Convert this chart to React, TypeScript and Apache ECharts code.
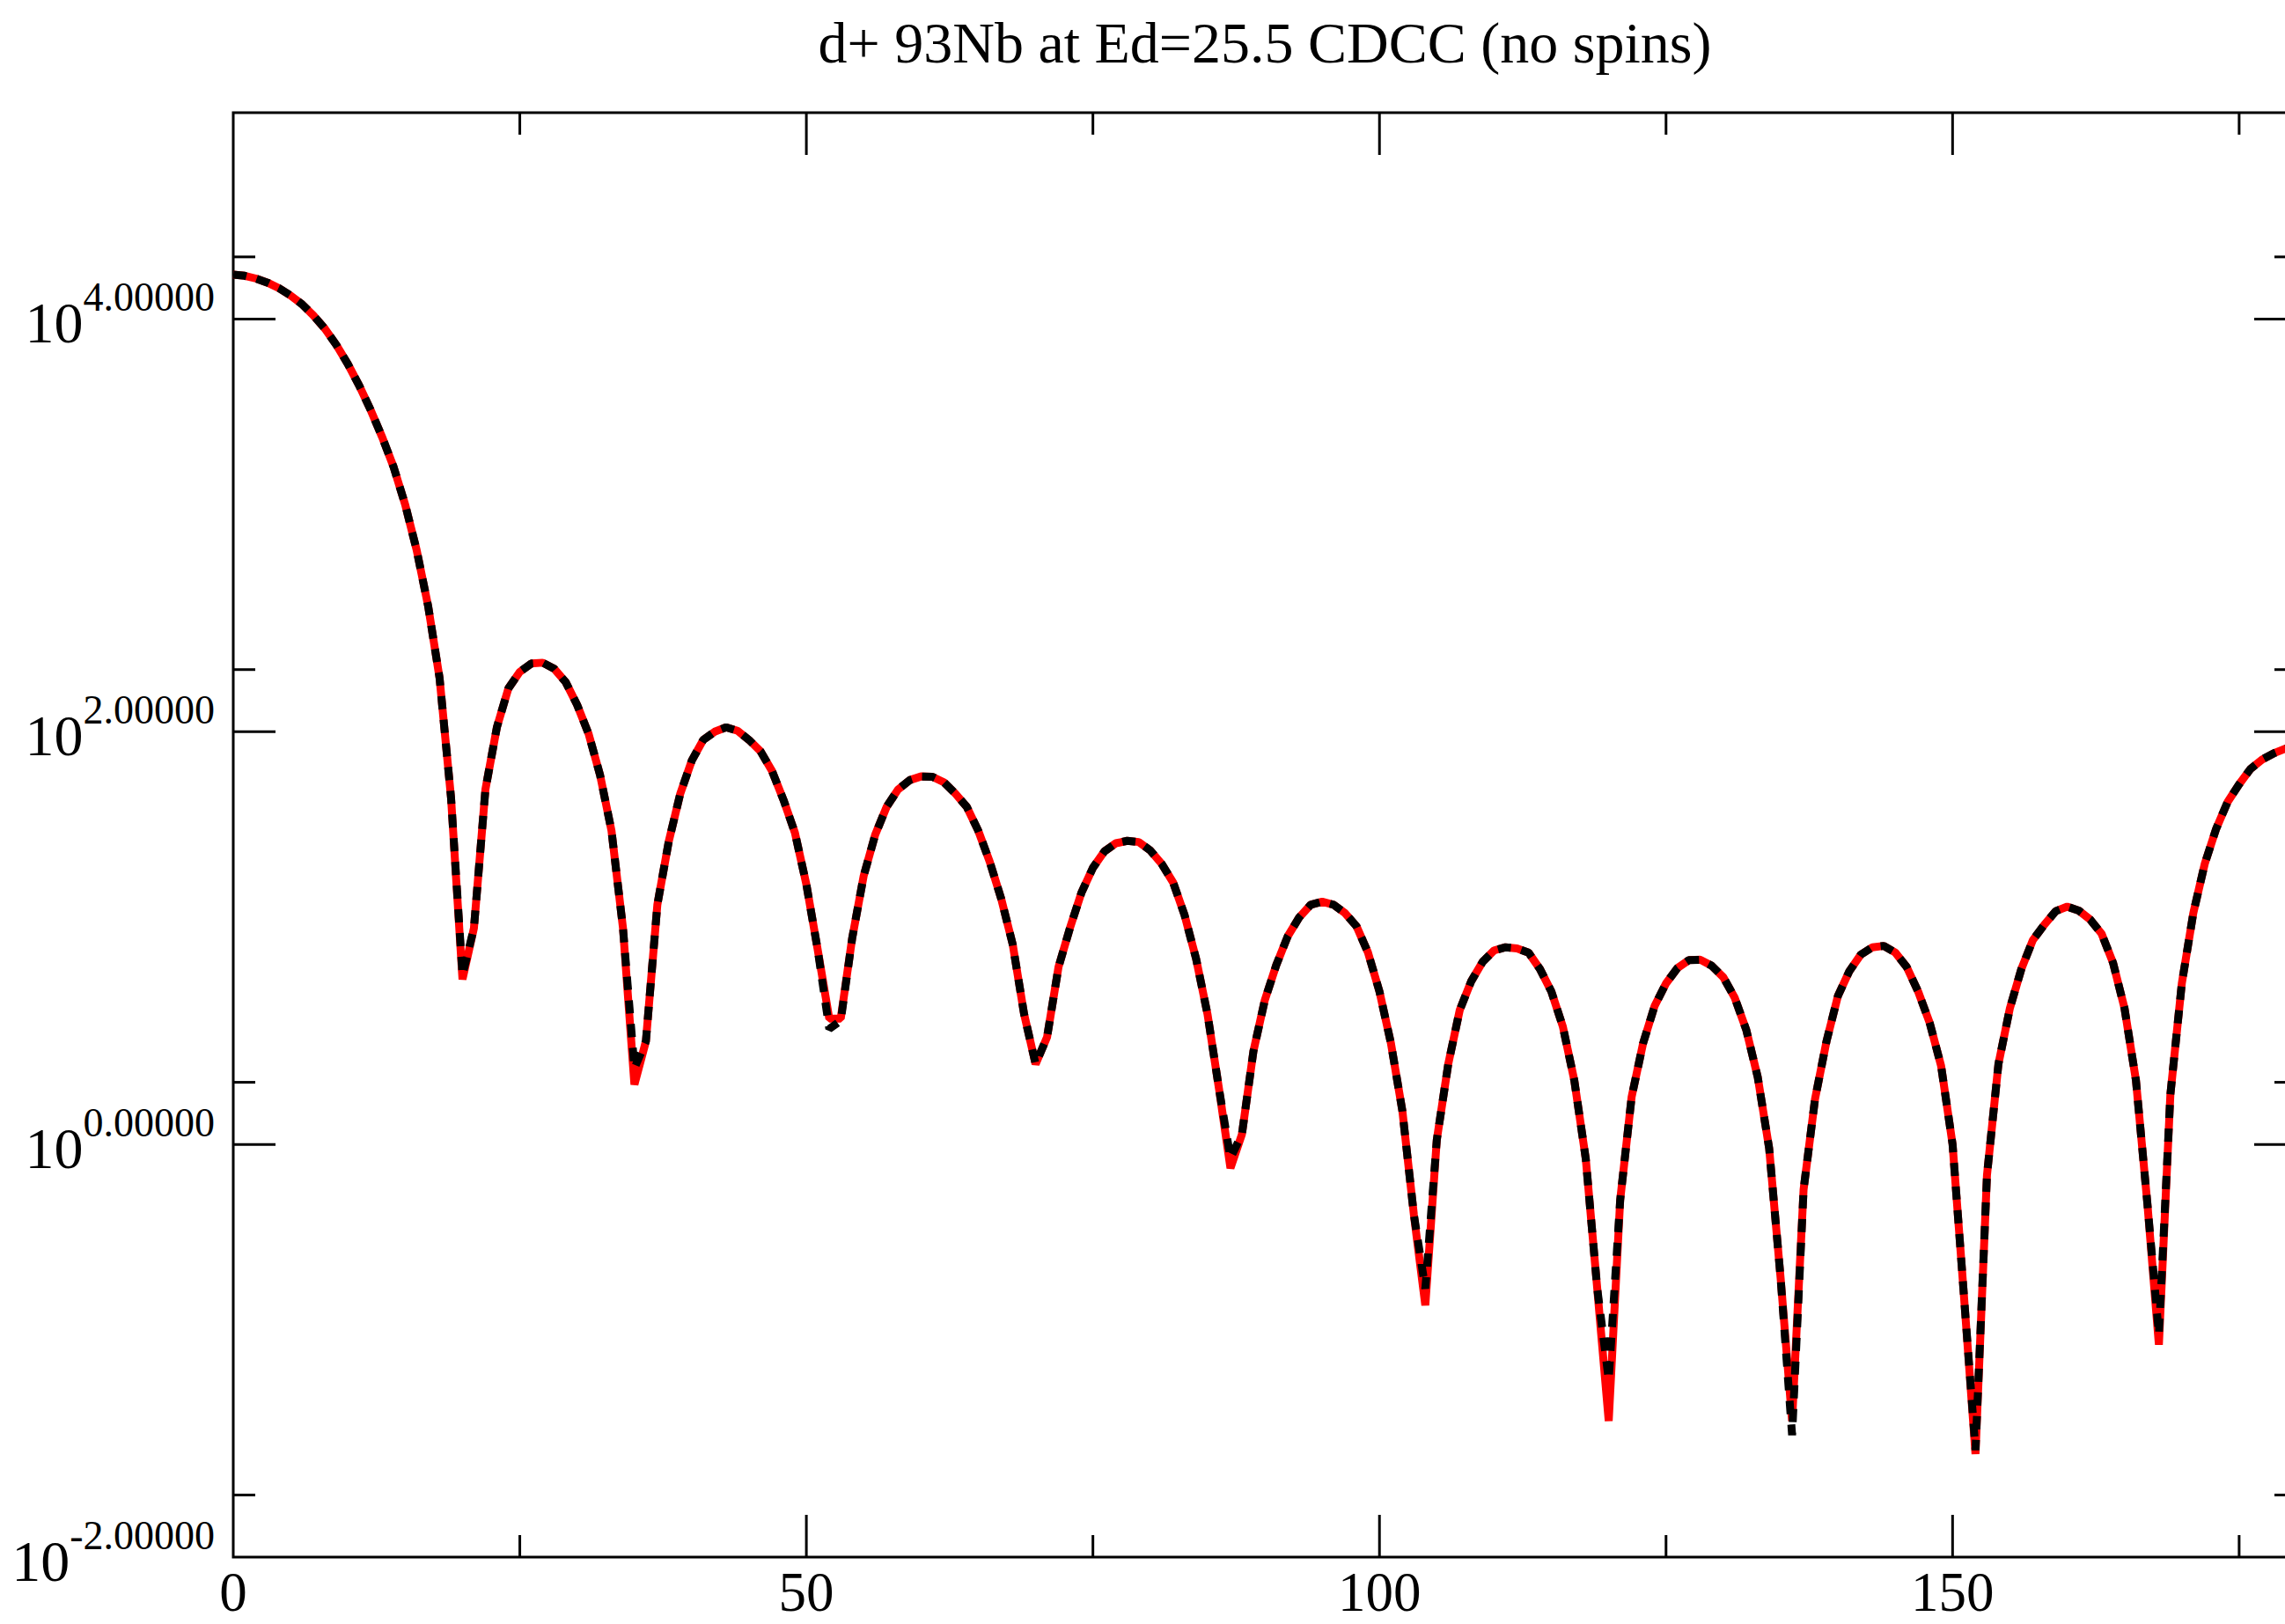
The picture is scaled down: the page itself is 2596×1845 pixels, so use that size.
import React, { useEffect, useRef } from "react";
import * as echarts from "echarts";

const TITLE = "d+ 93Nb at Ed=25.5 CDCC (no spins)";

// scattering angle (degrees), 1 degree steps
const angles: number[] = Array.from({ length: 181 }, (_, i) => i);

// black dashed curve
const crossSectionBlack: number[] = [
  16400, 16200, 15700, 15000, 14100, 13000, 11800, 10400, 8970, 7480,
  6050, 4740, 3610, 2670, 1910, 1260, 759, 407, 182, 47.9,
  6.61, 11.2, 52.5, 105, 162, 195, 214, 216, 202, 174,
  135, 97.7, 61.7, 33.1, 11.2, 2.34, 3.16, 14.5, 29.5, 50.1,
  72.4, 91.2, 100, 105, 101, 91.2, 80.4, 64.6, 46.8, 32.4,
  18.2, 8.71, 3.63, 3.98, 10.0, 20.0, 31.6, 43.2, 52.5, 58.2,
  60.7, 60.5, 56.9, 50.1, 43.2, 33.1, 23.4, 15.5, 9.33, 4.27,
  2.45, 3.31, 7.24, 11.2, 16.6, 21.9, 26.3, 28.8, 29.6, 29.2,
  26.6, 22.9, 18.6, 12.9, 7.94, 4.27, 1.86, 0.859, 1.12, 2.82,
  5.01, 7.41, 10.2, 12.6, 14.5, 15.0, 14.5, 13.2, 11.4, 8.51,
  5.5, 3.09, 1.45, 0.457, 0.2, 1.05, 2.45, 4.47, 6.17, 7.67,
  8.71, 9.02, 8.91, 8.51, 7.08, 5.5, 3.72, 2.04, 0.851, 0.2,
  0.0724, 0.537, 1.7, 3.09, 4.68, 6.03, 7.16, 7.82, 7.85, 7.33,
  6.46, 5.13, 3.59, 2.12, 0.955, 0.224, 0.0390, 0.603, 1.66, 3.16,
  5.25, 6.92, 8.32, 9.02, 9.16, 8.51, 7.24, 5.5, 3.89, 2.4,
  1.0, 0.182, 0.0330, 0.708, 2.45, 4.57, 7.08, 9.77, 11.6, 13.5,
  14.2, 13.6, 12.3, 10.5, 7.59, 4.57, 2.04, 0.513, 0.12, 1.74,
  6.03, 13.2, 22.9, 33.9, 45.7, 55.6, 66.1, 73.3, 78.5, 82.6,
  85.1,
];

// red solid curve
const crossSectionRed: number[] = [
  16400, 16200, 15700, 15000, 14100, 13000, 11800, 10400, 8970, 7480,
  6050, 4740, 3610, 2670, 1910, 1260, 759, 407, 182, 47.9,
  6.31, 11.2, 52.5, 105, 162, 195, 214, 216, 202, 174,
  135, 97.7, 61.7, 33.1, 11.2, 1.95, 3.16, 14.5, 29.5, 50.1,
  72.4, 91.2, 100, 105, 101, 91.2, 80.4, 64.6, 46.8, 32.4,
  18.2, 8.71, 4.07, 4.07, 10.0, 20.0, 31.6, 43.2, 52.5, 58.2,
  60.7, 60.5, 56.9, 50.1, 43.2, 33.1, 23.4, 15.5, 9.33, 4.27,
  2.45, 3.31, 7.24, 11.2, 16.6, 21.9, 26.3, 28.8, 29.6, 29.2,
  26.6, 22.9, 18.6, 12.9, 7.94, 4.27, 1.86, 0.767, 1.12, 2.82,
  5.01, 7.41, 10.2, 12.6, 14.5, 15.0, 14.5, 13.2, 11.4, 8.51,
  5.5, 3.09, 1.45, 0.457, 0.166, 1.05, 2.45, 4.47, 6.17, 7.67,
  8.71, 9.02, 8.91, 8.51, 7.08, 5.5, 3.72, 2.04, 0.851, 0.2,
  0.0457, 0.537, 1.7, 3.09, 4.68, 6.03, 7.16, 7.82, 7.85, 7.33,
  6.46, 5.13, 3.59, 2.12, 0.955, 0.224, 0.0457, 0.603, 1.66, 3.16,
  5.25, 6.92, 8.32, 9.02, 9.16, 8.51, 7.24, 5.5, 3.89, 2.4,
  1.0, 0.182, 0.0316, 0.708, 2.45, 4.57, 7.08, 9.77, 11.6, 13.5,
  14.2, 13.6, 12.3, 10.5, 7.59, 4.57, 2.04, 0.513, 0.107, 1.74,
  6.03, 13.2, 22.9, 33.9, 45.7, 55.6, 66.1, 73.3, 78.5, 82.6,
  85.1,
];

const X_MIN = 0;
const X_MAX = 180;
const X_LABEL_STEP = 50;
const Y_MIN = 0.01;
const Y_MAX = 100000;

const xMajorTicks = [50, 100, 150];
const xMinorTicks = [25, 75, 125, 175];
const yMajorTicks = [1, 100, 10000];
const yMinorTicks = [0.02, 2, 200, 20000];

const FONT = "'Liberation Serif', 'Times New Roman', Times, serif";

export default function App() {
  const ref = useRef<HTMLDivElement>(null);

  useEffect(() => {
    if (!ref.current) return;
    const chart = echarts.init(ref.current, null, { renderer: "svg" });

    const MAJOR = 48;
    const MINOR = 25;
    const tickData: number[][] = [];
    xMajorTicks.forEach((x) => {
      tickData.push([x, Y_MIN, 0, -MAJOR]);
      tickData.push([x, Y_MAX, 0, MAJOR]);
    });
    xMinorTicks.forEach((x) => {
      tickData.push([x, Y_MIN, 0, -MINOR]);
      tickData.push([x, Y_MAX, 0, MINOR]);
    });
    yMajorTicks.forEach((y) => {
      tickData.push([X_MIN, y, MAJOR, 0]);
      tickData.push([X_MAX, y, -MAJOR, 0]);
    });
    yMinorTicks.forEach((y) => {
      tickData.push([X_MIN, y, MINOR, 0]);
      tickData.push([X_MAX, y, -MINOR, 0]);
    });

    const blackData = angles.map((a, i) => [a, crossSectionBlack[i]]);
    const redData = angles.map((a, i) => [a, crossSectionRed[i]]);

    chart.setOption({
      animation: false,
      backgroundColor: "#ffffff",
      textStyle: { fontFamily: FONT },
      title: {
        text: TITLE,
        left: "center",
        top: 15,
        padding: 0,
        textStyle: {
          fontFamily: FONT,
          fontSize: 66,
          fontWeight: "normal",
          color: "#000",
          lineHeight: 66,
        },
      },
      grid: {
        left: 265,
        right: 265,
        top: 128,
        bottom: 76,
        show: true,
        borderColor: "#000",
        borderWidth: 3,
        backgroundColor: "transparent",
      },
      xAxis: {
        type: "value",
        min: X_MIN,
        max: X_MAX,
        interval: X_LABEL_STEP,
        axisLine: { show: false },
        axisTick: { show: false },
        splitLine: { show: false },
        axisLabel: {
          margin: 10,
          fontFamily: FONT,
          fontSize: 63,
          lineHeight: 60,
          color: "#000",
          formatter: (v: number) => (v % X_LABEL_STEP === 0 ? String(v) : ""),
        },
      },
      yAxis: {
        type: "log",
        logBase: 10,
        min: Y_MIN,
        max: Y_MAX,
        axisLine: { show: false },
        axisTick: { show: false },
        splitLine: { show: false },
        minorTick: { show: false },
        axisLabel: {
          margin: 21,
          color: "#000",
          padding: [28, 0, 0, 0],
          formatter: (v: number) => {
            const e = Math.round(Math.log10(v));
            if (e % 2 !== 0 || e > 4) return "";
            return "{b|10}{s|" + e.toFixed(5) + "}";
          },
          rich: {
            b: {
              fontFamily: FONT,
              fontSize: 66,
              lineHeight: 36,
              color: "#000",
              verticalAlign: "bottom",
            },
            s: {
              fontFamily: FONT,
              fontSize: 46,
              lineHeight: 46,
              color: "#000",
              verticalAlign: "bottom",
              padding: [0, 0, 39, 0],
            },
          },
        },
      },
      series: [
        {
          name: "CDCC red",
          type: "line",
          data: redData,
          showSymbol: false,
          symbol: "none",
          smooth: false,
          clip: true,
          lineStyle: { color: "#ff0000", width: 9, type: "solid" },
          z: 2,
        },
        {
          name: "CDCC black",
          type: "line",
          data: blackData,
          showSymbol: false,
          symbol: "none",
          smooth: false,
          clip: true,
          lineStyle: { color: "#000000", width: 9, type: [15, 12], cap: "butt" },
          z: 3,
        },
        {
          name: "ticks",
          type: "custom",
          silent: true,
          clip: false,
          z: 5,
          data: tickData,
          encode: { x: 0, y: 1 },
          renderItem: (_params: any, api: any) => {
            const p = api.coord([api.value(0), api.value(1)]);
            return {
              type: "line",
              shape: {
                x1: p[0],
                y1: p[1],
                x2: p[0] + api.value(2),
                y2: p[1] + api.value(3),
              },
              style: { stroke: "#000", lineWidth: 3 },
            };
          },
        },
      ],
    });

    return () => chart.dispose();
  }, []);

  return (
    <div
      style={{
        position: "fixed",
        left: 0,
        top: 0,
        width: "2596px",
        height: "1845px",
        overflow: "hidden",
        background: "#fff",
      }}
    >
      <div ref={ref} style={{ width: "2874px", height: "1845px" }} />
    </div>
  );
}
